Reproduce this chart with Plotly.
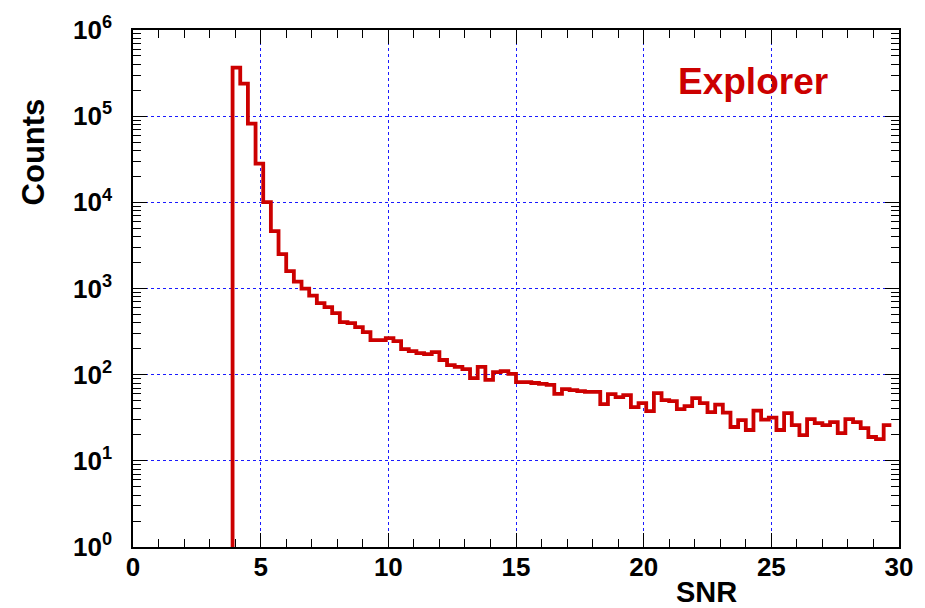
import numpy as np
import plotly.graph_objects as go

# Histogram binning (SNR): fixed-width bins starting at the first filled edge
bin_start = 3.9
bin_width = 0.3

# Counts per bin, from SNR = 3.9 up to 29.7
counts = [
    365000, 238000, 81900, 28100, 10050, 4635, 2506, 1592, 1202, 997,
    827, 677, 608, 518, 408, 397, 357, 312, 252, 252,
    266, 245, 198, 188, 178, 173, 183, 148, 129, 123,
    116, 91, 123, 87, 107, 110, 102, 82, 82, 80,
    78, 76, 60, 68, 66, 64.5, 63, 63, 45.6, 59.6,
    55, 58, 42, 46.8, 37.8, 61, 50.7, 49.4, 39.9, 43.2,
    53.5, 46.8, 36.8, 45, 36.3, 24.7, 29.7, 22.8, 38.3, 30.1,
    31.8, 22.8, 35.8, 26, 19.9, 30.5, 27.4, 26, 28.2, 21,
    30.5, 28.2, 24, 18.9, 17.9, 26,
]

x_ticks = [0, 5, 10, 15, 20, 25, 30]
y_ticks = [1, 10, 100, 1000, 10000, 100000, 1000000]
y_ticktext = ["10<sup>0</sup>", "10<sup>1</sup>", "10<sup>2</sup>", "10<sup>3</sup>",
              "10<sup>4</sup>", "10<sup>5</sup>", "10<sup>6</sup>"]

edges = bin_start + bin_width * np.arange(len(counts) + 1)
# Step outline: rise from the axis floor at the first edge, then one level per bin
step_x = np.concatenate([[edges[0]], edges])
step_y = np.concatenate([[1], counts, [counts[-1]]])

RED = "#cc0000"
FONT = "Liberation Sans, Arial, sans-serif"

fig = go.Figure()
fig.add_trace(go.Scatter(
    x=step_x, y=step_y, mode="lines",
    line=dict(color=RED, width=3.8, shape="hv"),
    showlegend=False, hoverinfo="skip",
))

axis_common = dict(
    showline=True, linecolor="black", linewidth=1.5, mirror="ticks",
    ticks="inside", tickcolor="black", tickwidth=1,
    showgrid=True, gridcolor="#1a1aff", gridwidth=1, griddash="dot",
    zeroline=False,
    tickfont=dict(family=FONT, size=26, color="black", weight="bold"),
)

fig.update_xaxes(
    range=[0, 30], tickvals=x_ticks, ticklen=14,
    minor=dict(dtick=1, ticks="inside", ticklen=8, tickcolor="black", showgrid=False),
    ticklabelstandoff=-4,
    **axis_common,
)
fig.update_yaxes(
    type="log", range=[0, 6], tickvals=y_ticks, ticktext=y_ticktext, ticklen=14,
    minor=dict(dtick="D1", ticks="inside", ticklen=8, tickcolor="black", showgrid=False),
    ticklabelstandoff=14,
    **axis_common,
)

fig.add_annotation(
    x=0.809, y=0.901, xref="paper", yref="paper", text="<b>Explorer</b>",
    showarrow=False, font=dict(family=FONT, size=37, color=RED),
    xanchor="center", yanchor="middle",
)
fig.add_annotation(
    x=0.749, y=-0.087, xref="paper", yref="paper", text="<b>SNR</b>",
    showarrow=False, font=dict(family=FONT, size=29, color="black"),
    xanchor="center", yanchor="middle",
)
fig.add_annotation(
    x=-0.13, y=0.764, xref="paper", yref="paper", text="<b>Counts</b>",
    showarrow=False, textangle=-90, font=dict(family=FONT, size=31, color="black"),
    xanchor="center", yanchor="middle",
)

fig.update_layout(
    width=925, height=608,
    margin=dict(l=133, r=22, t=30, b=61),
    paper_bgcolor="white", plot_bgcolor="white",
)

fig.write_html("out.html")
